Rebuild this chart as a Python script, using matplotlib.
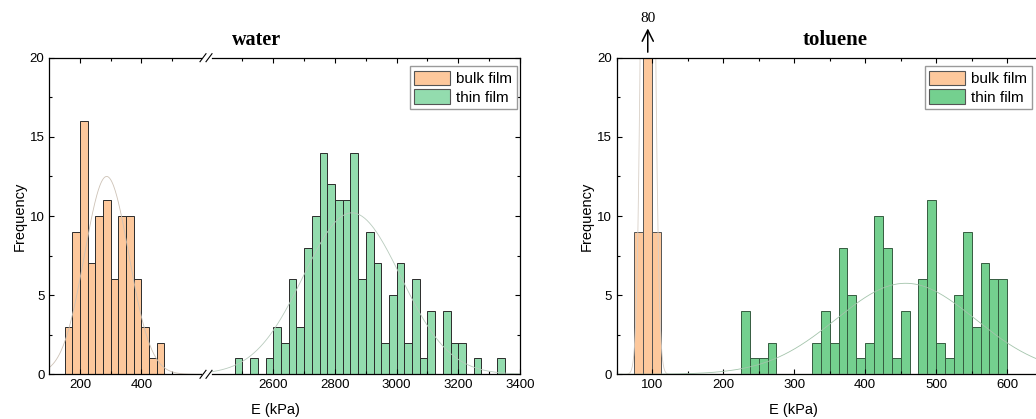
import numpy as np
import matplotlib.pyplot as plt
from matplotlib.patches import Patch
from matplotlib.ticker import MultipleLocator, FixedLocator

plt.rcParams['font.family'] = ['Liberation Sans', 'DejaVu Sans']

# water: histogram counts, bin width 25 kPa
water_bin = 25
water_bulk_start = 150
water_bulk_counts = [3, 9, 16, 7, 10, 11, 6, 10, 10, 6, 3, 1, 2]
water_thin_start = 2475
water_thin_counts = [1, 0, 1, 0, 1, 3, 2, 6, 3, 8, 10, 14, 12, 11, 11, 14, 6, 9, 7, 2,
                     5, 7, 2, 6, 1, 4, 0, 4, 2, 2, 0, 1, 0, 0, 1]

# toluene: histogram counts, bin width 12.5 kPa
tol_bin = 12.5
tol_bulk_start = 75
tol_bulk_counts = [9, 80, 9]
tol_thin_start = 225
tol_thin_counts = [4, 1, 1, 2, 0, 0, 0, 0, 2, 4, 2, 8, 5, 1, 2, 10, 8, 1, 4, 0,
                   6, 11, 2, 1, 5, 9, 3, 7, 6, 6]

# normal fits (amplitude, mean, sigma)
water_bulk_fit = (12.5, 287, 72)
water_thin_fit = (10.2, 2855, 158)
tol_bulk_fit = (70, 94, 7)
tol_thin_fit = (5.75, 457, 98)

bulk_color = '#fdc89c'
thin_color_w = '#93dcae'
thin_color_t = '#74d08f'
edge = '#2b2b2b'

W, H = 1036, 419


def fx(px):
    return px / W


def fy(py):
    return 1 - py / H


def edges(start, counts, width):
    return start + width * np.arange(len(counts))


def gauss(x, fit):
    a, mu, s = fit
    return a * np.exp(-(x - mu) ** 2 / (2 * s ** 2))


def style(ax, left=True, right=True):
    ax.set_ylim(0, 20)
    ax.yaxis.set_major_locator(MultipleLocator(5))
    ax.yaxis.set_minor_locator(MultipleLocator(2.5))
    ax.tick_params(which='both', labelsize=9.5, width=0.8)
    ax.tick_params(which='major', length=3.5)
    ax.tick_params(which='minor', length=2.2)
    ax.tick_params(axis='x', which='both', top=True, direction='in')
    ax.tick_params(axis='y', which='both', direction='in', left=left, right=right,
                   labelleft=left)
    for s in ax.spines.values():
        s.set_linewidth(0.9)


fig = plt.figure(figsize=(W / 100, H / 100), dpi=100)
y0, y1 = fy(374.3), fy(57.7)

# ---- water, broken x axis ----
axA = fig.add_axes([fx(49.3), y0, fx(207) - fx(49.3), y1 - y0])
axB = fig.add_axes([fx(207), y0, fx(520) - fx(207), y1 - y0])

xa = edges(water_bulk_start, water_bulk_counts, water_bin)
axA.bar(xa, water_bulk_counts, width=water_bin, align='edge',
        color=bulk_color, edgecolor=edge, linewidth=0.7)
xg = np.linspace(100, 614, 300)
axA.plot(xg, gauss(xg, water_bulk_fit), color='#cdc2b6', lw=0.6)
axA.set_xlim(100, 614)
axA.xaxis.set_major_locator(FixedLocator([200, 400]))
axA.xaxis.set_minor_locator(FixedLocator([300, 500]))
style(axA, left=True, right=False)
axA.spines['right'].set_visible(False)
axA.spines['bottom'].set_bounds(100, 595)
axA.spines['top'].set_bounds(100, 595)

xb = edges(water_thin_start, water_thin_counts, water_bin)
axB.bar(xb, water_thin_counts, width=water_bin, align='edge',
        color=thin_color_w, edgecolor=edge, linewidth=0.7)
xg = np.linspace(2400, 3400, 400)
axB.plot(xg, gauss(xg, water_thin_fit), color='#b8cbbd', lw=0.6)
axB.set_xlim(2385, 3400)
axB.xaxis.set_major_locator(FixedLocator([2600, 2800, 3000, 3200, 3400]))
axB.xaxis.set_minor_locator(FixedLocator([2500, 2700, 2900, 3100, 3300]))
style(axB, left=False, right=True)
axB.spines['left'].set_visible(False)
axB.spines['bottom'].set_bounds(2400, 3400)
axB.spines['top'].set_bounds(2400, 3400)

axA.set_ylabel('Frequency', fontsize=10.5, labelpad=2)

# break marks //
for py in (374.3, 57.7):
    for cx in (203.0, 209.0):
        fig.add_artist(plt.Line2D([fx(cx - 3), fx(cx + 3)], [fy(py + 4), fy(py - 4)],
                                  color='black', lw=0.8))

axB.legend(handles=[Patch(facecolor=bulk_color, edgecolor='#555555', lw=0.8, label='bulk film'),
                    Patch(facecolor=thin_color_w, edgecolor='#555555', lw=0.8, label='thin film')],
           loc='upper right', bbox_to_anchor=(fx(517), fy(66)), bbox_transform=fig.transFigure,
           fontsize=11, frameon=True, fancybox=False, edgecolor='#9a9a9a', framealpha=1,
           handlelength=2.35, handleheight=1.1, labelspacing=0.2, borderpad=0.3,
           handletextpad=0.4, borderaxespad=0)

fig.text(fx(256), fy(40), 'water', ha='center', va='center', fontsize=14.5,
         fontweight='bold', family='Liberation Serif')
fig.text(fx(275), fy(410), 'E (kPa)', ha='center', va='center', fontsize=10.5)

# ---- toluene ----
axC = fig.add_axes([fx(616.7), y0, fx(1042.7) - fx(616.7), y1 - y0])
xc = edges(tol_bulk_start, tol_bulk_counts, tol_bin)
axC.bar(xc, tol_bulk_counts, width=tol_bin, align='edge',
        color=bulk_color, edgecolor='#555555', linewidth=0.7)
xd = edges(tol_thin_start, tol_thin_counts, tol_bin)
axC.bar(xd, tol_thin_counts, width=tol_bin, align='edge',
        color=thin_color_t, edgecolor='#355c40', linewidth=0.7)
xg = np.linspace(50, 650, 1200)
axC.plot(xg, gauss(xg, tol_bulk_fit), color='#d8cfc6', lw=0.6)
axC.plot(xg, gauss(xg, tol_thin_fit), color='#a3c4ab', lw=0.6)
axC.set_xlim(50, 650)
axC.xaxis.set_major_locator(MultipleLocator(100))
axC.xaxis.set_minor_locator(MultipleLocator(50))
style(axC, left=True, right=True)
axC.set_ylabel('Frequency', fontsize=10.5, labelpad=2)

axC.legend(handles=[Patch(facecolor=bulk_color, edgecolor='#555555', lw=0.8, label='bulk film'),
                    Patch(facecolor=thin_color_t, edgecolor='#555555', lw=0.8, label='thin film')],
           loc='upper right', bbox_to_anchor=(fx(1032), fy(66)), bbox_transform=fig.transFigure,
           fontsize=11, frameon=True, fancybox=False, edgecolor='#9a9a9a', framealpha=1,
           handlelength=2.35, handleheight=1.1, labelspacing=0.2, borderpad=0.3,
           handletextpad=0.4, borderaxespad=0)

fig.text(fx(835), fy(40), 'toluene', ha='center', va='center', fontsize=15,
         fontweight='bold', family='Liberation Serif')
fig.text(fx(793), fy(410), 'E (kPa)', ha='center', va='center', fontsize=10.5)

# off-scale bar marker
peak_x = tol_bulk_start + tol_bin * 1.5
axC.annotate('', xy=(peak_x, 21.85), xytext=(peak_x, 20.35), xycoords='data',
             annotation_clip=False,
             arrowprops=dict(arrowstyle='->', lw=1.1, color='black', mutation_scale=20,
                             shrinkA=0, shrinkB=0))
axC.text(peak_x, 22.45, str(tol_bulk_counts[1]), ha='center', va='center', fontsize=11,
         family='Liberation Serif', clip_on=False)

fig.savefig('out.png', dpi=100)
